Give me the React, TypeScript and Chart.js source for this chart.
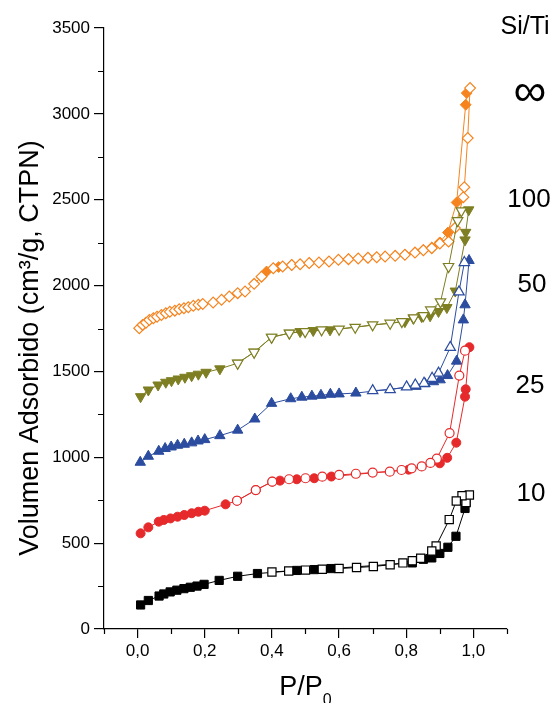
import React, { useEffect, useRef } from "react";
import { Chart, registerables } from "chart.js";

Chart.register(...registerables);

// ---------- data (P/P0 , volume) ----------
// Si/Ti = 10
const p10Ads = [0.009, 0.032, 0.064, 0.078, 0.097, 0.117, 0.138, 0.157, 0.177, 0.198, 0.243, 0.298, 0.357, 0.474, 0.526, 0.576, 0.818, 0.851, 0.876, 0.9, 0.924, 0.948, 0.975, 0.978];
const v10Ads = [140, 166, 192, 204, 216, 226, 235, 243, 250, 260, 283, 307, 323, 341, 346, 352, 385, 406, 414, 440, 476, 540, 702, 737];
const p10Des = [0.978, 0.988, 0.966, 0.949, 0.928, 0.889, 0.876, 0.843, 0.818, 0.79, 0.752, 0.702, 0.652, 0.6, 0.55, 0.5, 0.45, 0.4];
const v10Des = [737, 780, 776, 745, 637, 484, 454, 412, 398, 385, 374, 364, 358, 352, 348, 343, 338, 332];

// Si/Ti = 25
const p25Ads = [0.009, 0.032, 0.063, 0.078, 0.098, 0.119, 0.139, 0.161, 0.181, 0.2, 0.262, 0.296, 0.352, 0.401, 0.424, 0.474, 0.526, 0.577, 0.807, 0.9, 0.922, 0.949, 0.975, 0.977, 0.988];
const v25Ads = [557, 592, 625, 635, 644, 654, 664, 674, 683, 689, 726, 747, 809, 858, 864, 872, 878, 888, 928, 965, 997, 1085, 1353, 1396, 1641];
const p25Des = [0.988, 0.975, 0.958, 0.929, 0.891, 0.872, 0.846, 0.816, 0.786, 0.751, 0.7, 0.65, 0.6, 0.55, 0.5, 0.451, 0.401, 0.352, 0.296];
const v25Des = [1641, 1621, 1476, 1141, 992, 967, 947, 936, 926, 916, 911, 904, 897, 887, 878, 872, 858, 809, 747];

// Si/Ti = 50
const p50Ads = [0.008, 0.032, 0.063, 0.082, 0.1, 0.119, 0.139, 0.161, 0.18, 0.2, 0.245, 0.298, 0.349, 0.399, 0.456, 0.489, 0.519, 0.546, 0.574, 0.6, 0.65, 0.829, 0.856, 0.881, 0.901, 0.923, 0.95, 0.97, 0.975, 0.987];
const v50Ads = [971, 1006, 1035, 1051, 1060, 1070, 1076, 1084, 1095, 1103, 1126, 1158, 1223, 1314, 1341, 1350, 1356, 1361, 1367, 1369, 1374, 1413, 1428, 1440, 1451, 1476, 1560, 1800, 1888, 2146];
const p50Des = [0.987, 0.973, 0.957, 0.931, 0.896, 0.877, 0.853, 0.827, 0.801, 0.752, 0.7];
const v50Des = [2146, 2134, 1963, 1640, 1490, 1460, 1431, 1421, 1410, 1394, 1388];

// Si/Ti = 100
const p100Ads = [0.009, 0.032, 0.061, 0.084, 0.101, 0.121, 0.141, 0.161, 0.181, 0.204, 0.245, 0.298, 0.347, 0.399, 0.452, 0.484, 0.523, 0.573, 0.796, 0.821, 0.846, 0.871, 0.896, 0.921, 0.946, 0.975, 0.977, 0.986];
const v100Ads = [1353, 1392, 1421, 1437, 1446, 1456, 1466, 1475, 1484, 1495, 1515, 1548, 1612, 1699, 1723, 1732, 1738, 1742, 1790, 1810, 1819, 1824, 1849, 1872, 1968, 2266, 2310, 2441];
const p100Des = [0.986, 0.964, 0.953, 0.926, 0.902, 0.873, 0.851, 0.822, 0.787, 0.752, 0.7, 0.648, 0.6, 0.548, 0.499, 0.452, 0.399, 0.347, 0.298];
const v100Des = [2441, 2435, 2378, 2111, 1905, 1858, 1825, 1812, 1790, 1781, 1771, 1757, 1746, 1742, 1732, 1723, 1699, 1612, 1548];

// Si/Ti = infinity
const pInfAds = [0.005, 0.015, 0.025, 0.035, 0.047, 0.058, 0.071, 0.084, 0.096, 0.111, 0.124, 0.138, 0.151, 0.166, 0.181, 0.194, 0.225, 0.25, 0.273, 0.298, 0.32, 0.347, 0.369, 0.404, 0.432, 0.459, 0.484, 0.511, 0.54, 0.57, 0.598, 0.628, 0.657, 0.686, 0.712, 0.737, 0.767, 0.796, 0.826, 0.851, 0.876, 0.9, 0.926, 0.945, 0.97, 0.973, 0.983, 0.99];
const vInfAds = [1752, 1771, 1784, 1800, 1810, 1819, 1829, 1839, 1847, 1854, 1862, 1868, 1874, 1882, 1888, 1893, 1901, 1917, 1936, 1956, 1965, 2010, 2052, 2101, 2111, 2120, 2124, 2131, 2134, 2140, 2150, 2154, 2158, 2162, 2165, 2169, 2173, 2179, 2192, 2206, 2218, 2245, 2256, 2335, 2515, 2573, 2859, 3150];
const pInfDes = [0.99, 0.98, 0.977, 0.95, 0.924, 0.9, 0.876, 0.851, 0.796, 0.737, 0.686, 0.628, 0.57, 0.511, 0.459, 0.42, 0.384];
const vInfDes = [3150, 3121, 3053, 2484, 2309, 2252, 2222, 2208, 2180, 2169, 2162, 2154, 2140, 2131, 2120, 2108, 2082];

// ---------- axes / labels ----------
const xTickValues = [0, 0.2, 0.4, 0.6, 0.8, 1.0];
const xMinorValues = [-0.1, 0.1, 0.3, 0.5, 0.7, 0.9, 1.1];
const yTickValues = [0, 500, 1000, 1500, 2000, 2500, 3000, 3500];
const yMinorValues = [250, 750, 1250, 1750, 2250, 2750, 3250];
const seriesNames = ["10", "25", "50", "100", "∞"];
const legendHeader = "Si/Ti";
const yTitleText = "Volumen Adsorbido (cm³/g, CTPN)";
const xTitleMain = "P/P";
const xTitleSub = "0";

const FONT = "'Liberation Sans', Arial, Helvetica, sans-serif";

export default function App() {
  const ref = useRef<HTMLCanvasElement>(null);

  useEffect(() => {
    const canvas = ref.current;
    if (!canvas) return;

    const series = [
      { name: seriesNames[0], color: "#000000", shape: "rect", rot: 0, r: 5.8, aP: p10Ads, aV: v10Ads, dP: p10Des, dV: v10Des, adsOpen: false, hideTurn: false },
      { name: seriesNames[1], color: "#E62A2B", shape: "circle", rot: 0, r: 4.5, aP: p25Ads, aV: v25Ads, dP: p25Des, dV: v25Des, adsOpen: false, hideTurn: true },
      { name: seriesNames[2], color: "#2B4C9F", shape: "triangle", rot: 0, r: 6, aP: p50Ads, aV: v50Ads, dP: p50Des, dV: v50Des, adsOpen: false, hideTurn: true },
      { name: seriesNames[3], color: "#7E7E22", shape: "triangle", rot: 180, r: 6, aP: p100Ads, aV: v100Ads, dP: p100Des, dV: v100Des, adsOpen: false, hideTurn: true },
      { name: seriesNames[4], color: "#F5841F", shape: "rectRot", rot: 0, r: 5.4, aP: pInfAds, aV: vInfAds, dP: pInfDes, dV: vInfDes, adsOpen: true, hideTurn: true },
    ];

    const datasets: any[] = [];
    series.forEach((s) => {
      const mk = (P: number[], V: number[], open: boolean, hideFirst: boolean, label: string) => ({
        label,
        data: P.map((x, i) => ({ x, y: V[i] })),
        showLine: true,
        fill: false,
        tension: 0,
        borderColor: s.color,
        borderWidth: 1,
        pointStyle: s.shape,
        pointRotation: s.rot,
        pointRadius: P.map((_, i) => (hideFirst && i === 0 ? 0 : s.r)),
        pointHoverRadius: P.map((_, i) => (hideFirst && i === 0 ? 0 : s.r)),
        pointBackgroundColor: open ? "#ffffff" : s.color,
        pointBorderColor: s.color,
        pointBorderWidth: open ? 1.2 : 1,
        order: open ? 0 : 1,
      });
      datasets.push(mk(s.aP, s.aV, s.adsOpen, false, `Si/Ti ${s.name} ads`));
      datasets.push(mk(s.dP, s.dV, !s.adsOpen, s.hideTurn, `Si/Ti ${s.name} des`));
    });

    const labelPos = [
      { text: legendHeader, px: 525, py: 27, size: 25 },
      { text: seriesNames[4], px: 530, py: 93, size: 46 },
      { text: seriesNames[3], px: 529, py: 200, size: 26 },
      { text: seriesNames[2], px: 532, py: 285, size: 26 },
      { text: seriesNames[1], px: 530, py: 386, size: 26 },
      { text: seriesNames[0], px: 531, py: 494, size: 26 },
    ];

    const decor = {
      id: "decor",
      afterDraw(chart: any) {
        const { ctx, chartArea, scales } = chart;
        const xs = scales.x;
        const ys = scales.y;
        ctx.save();
        // minor ticks
        ctx.strokeStyle = "#000";
        ctx.lineWidth = 1.2;
        ctx.beginPath();
        xMinorValues.forEach((v) => {
          const px = Math.round(xs.getPixelForValue(v)) + 0.5;
          ctx.moveTo(px, chartArea.bottom);
          ctx.lineTo(px, chartArea.bottom + 5);
        });
        yMinorValues.forEach((v) => {
          const py = Math.round(ys.getPixelForValue(v)) + 0.5;
          ctx.moveTo(chartArea.left, py);
          ctx.lineTo(chartArea.left - 6, py);
        });
        ctx.stroke();

        ctx.fillStyle = "#000";
        // y title
        ctx.save();
        ctx.translate(31, 348);
        ctx.rotate(-Math.PI / 2);
        ctx.font = `27px ${FONT}`;
        ctx.textAlign = "center";
        ctx.textBaseline = "middle";
        ctx.fillText(yTitleText, 0, 0);
        ctx.restore();

        // x title with subscript
        ctx.font = `27px ${FONT}`;
        const w1 = ctx.measureText(xTitleMain).width;
        ctx.font = `16px ${FONT}`;
        const w2 = ctx.measureText(xTitleSub).width;
        const cx = (chartArea.left + chartArea.right) / 2;
        const sx = cx - (w1 + w2) / 2;
        ctx.textAlign = "left";
        ctx.textBaseline = "alphabetic";
        ctx.font = `27px ${FONT}`;
        ctx.fillText(xTitleMain, sx, 695);
        ctx.font = `16px ${FONT}`;
        ctx.fillText(xTitleSub, sx + w1, 705);

        // right-hand labels
        ctx.textAlign = "center";
        ctx.textBaseline = "middle";
        labelPos.forEach((l) => {
          ctx.font = `${l.size}px ${FONT}`;
          ctx.fillText(l.text, l.px, l.py);
        });
        ctx.restore();
      },
    };

    const chart = new Chart(canvas, {
      type: "scatter",
      data: { datasets },
      options: {
        animation: false,
        responsive: false,
        devicePixelRatio: 1,
        layout: { padding: { left: 0, right: 48, top: 28, bottom: 0 } },
        plugins: { legend: { display: false }, tooltip: { enabled: false } },
        scales: {
          x: {
            type: "linear",
            min: -0.1,
            max: 1.1,
            afterBuildTicks: (scale: any) => {
              scale.ticks = xTickValues.map((v) => ({ value: v }));
            },
            afterFit: (scale: any) => {
              scale.height = 74;
            },
            ticks: {
              font: { family: FONT, size: 17 },
              color: "#000",
              padding: 3,
              maxRotation: 0,
              autoSkip: false,
              callback: (v: any) => Number(v).toFixed(1).replace(".", ","),
            },
            grid: { display: true, drawOnChartArea: false, drawTicks: true, tickLength: 9, tickWidth: 1.2, tickColor: "#000", lineWidth: 1.2, color: "#000" },
            border: { display: true, color: "#000", width: 1.2 },
            title: { display: false },
          },
          y: {
            type: "linear",
            min: 0,
            max: 3500,
            afterBuildTicks: (scale: any) => {
              scale.ticks = yTickValues.map((v) => ({ value: v }));
            },
            afterFit: (scale: any) => {
              scale.width = 104;
            },
            ticks: {
              font: { family: FONT, size: 17 },
              color: "#000",
              padding: 4,
              autoSkip: false,
              callback: (v: any) => String(v),
            },
            grid: { display: true, drawOnChartArea: false, drawTicks: true, tickLength: 10, tickWidth: 1.2, tickColor: "#000", lineWidth: 1.2, color: "#000" },
            border: { display: true, color: "#000", width: 1.2 },
            title: { display: false },
          },
        },
      },
      plugins: [decor],
    } as any);

    return () => chart.destroy();
  }, []);

  return (
    <div style={{ position: "absolute", left: 0, top: 0, width: 555, height: 703, background: "#fff" }}>
      <canvas ref={ref} width={555} height={703} style={{ display: "block" }} />
    </div>
  );
}
